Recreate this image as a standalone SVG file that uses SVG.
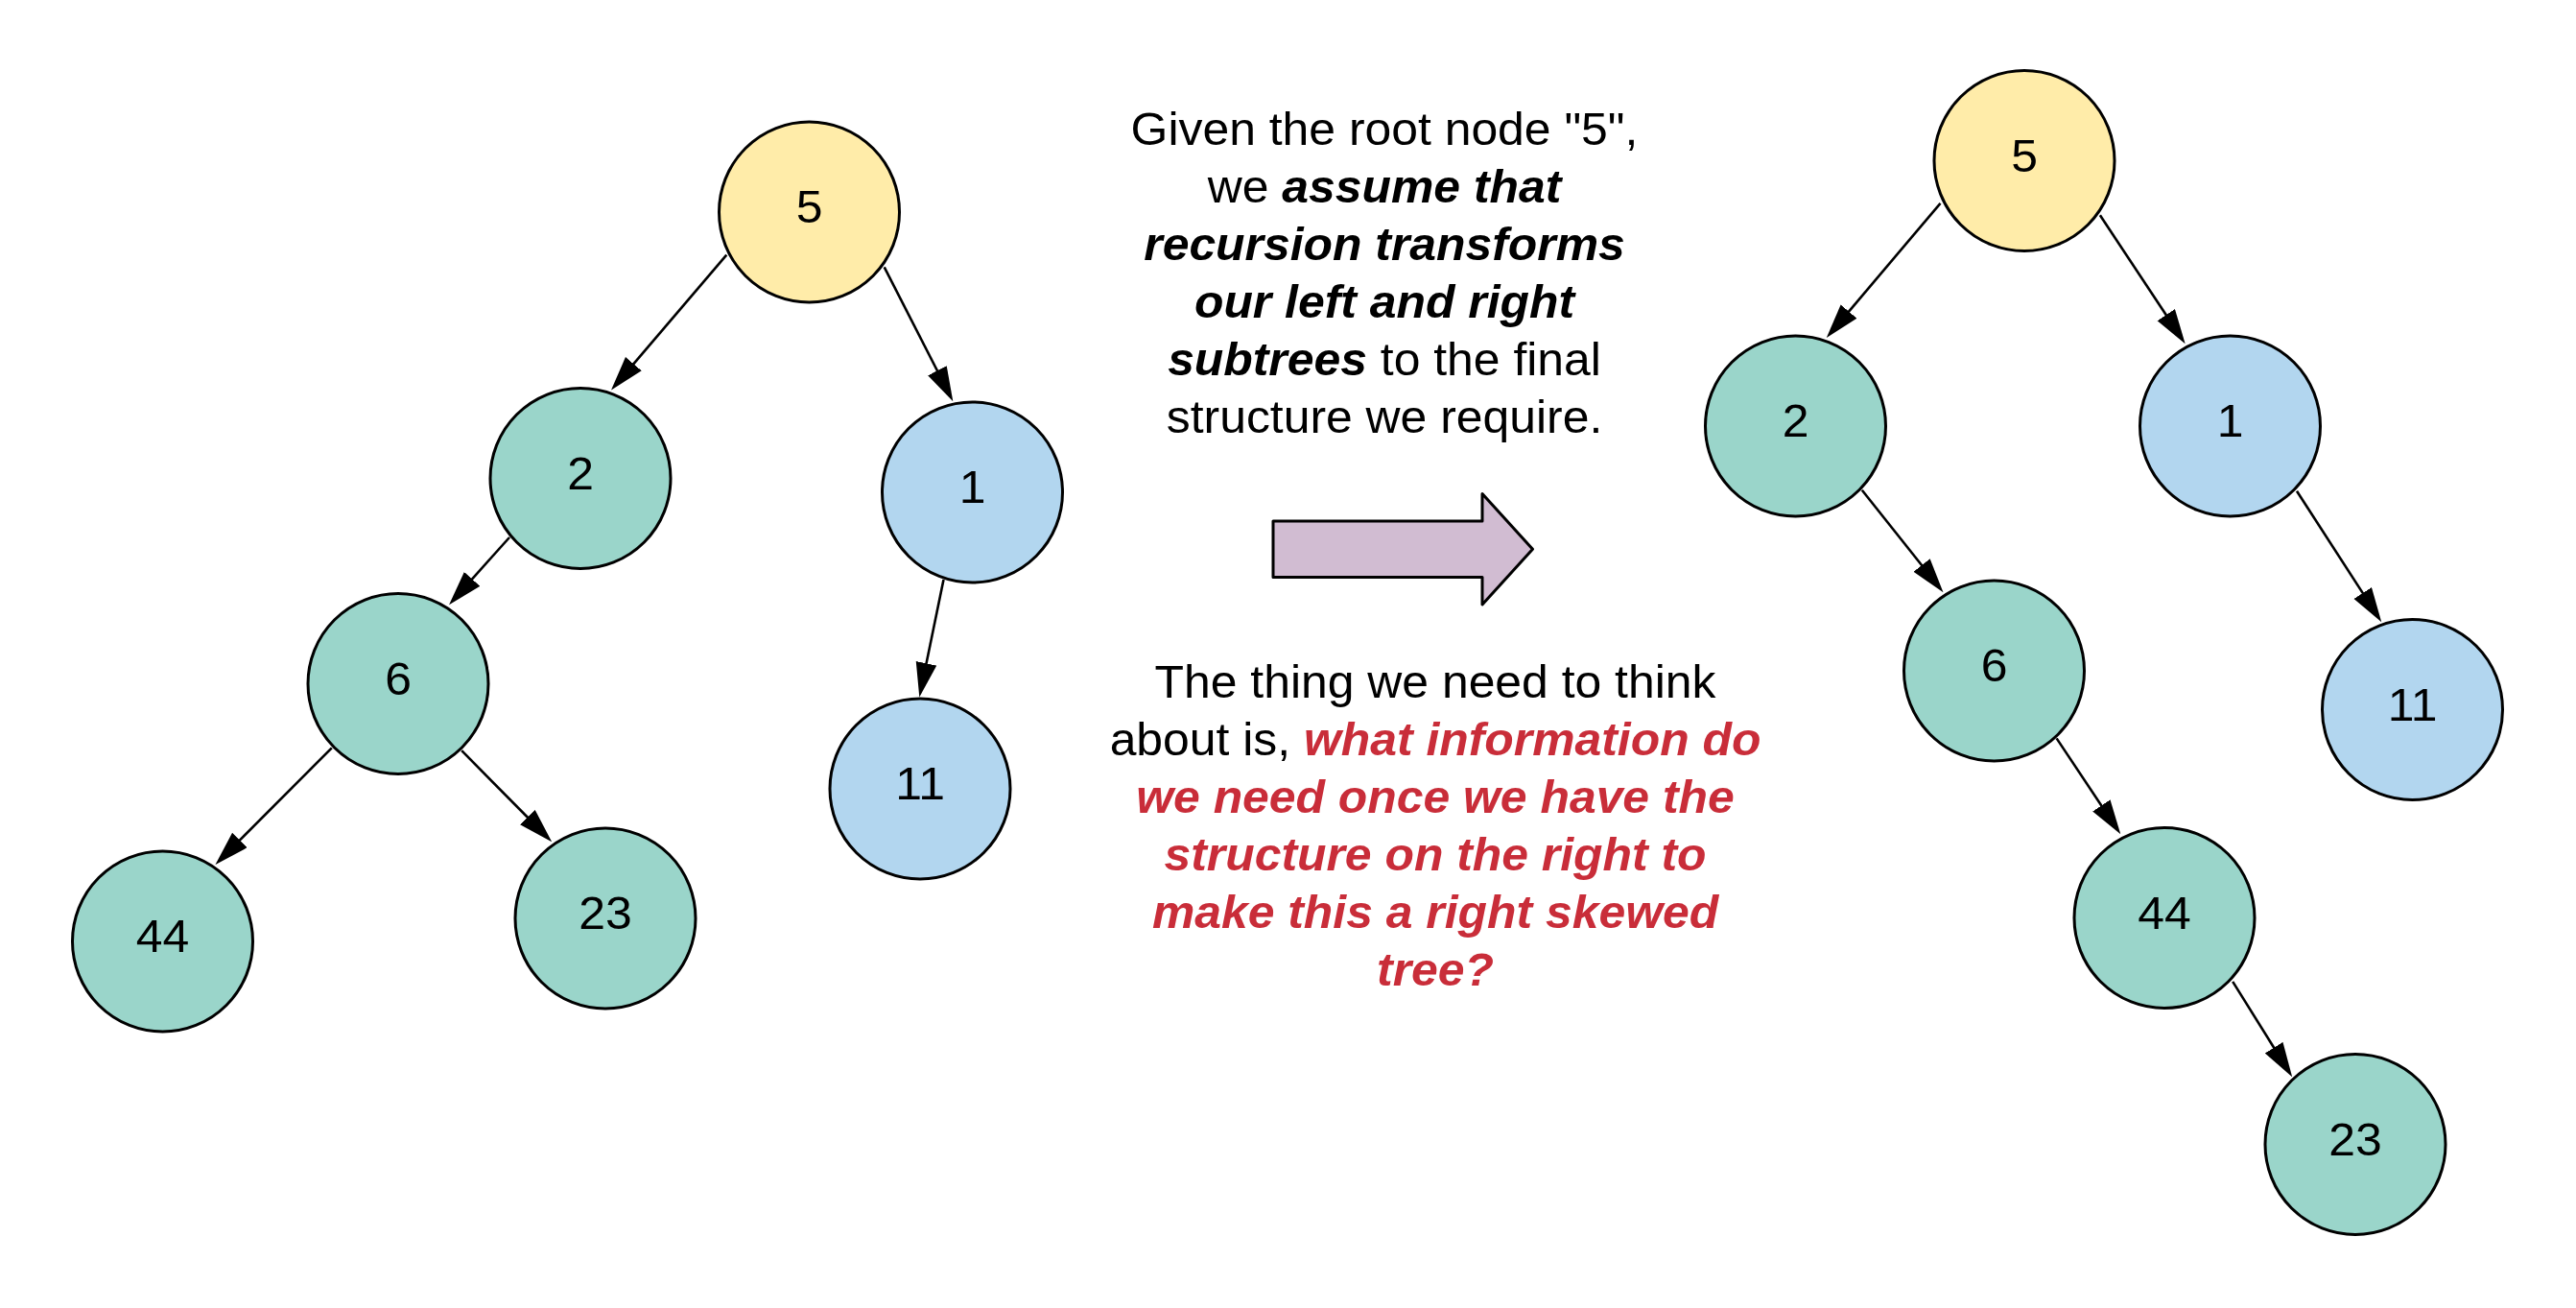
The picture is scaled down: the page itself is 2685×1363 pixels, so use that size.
<svg xmlns="http://www.w3.org/2000/svg" width="2685" height="1363" viewBox="0 0 2685 1363">
<style>
  .node circle { stroke: #000; stroke-width: 3; }
  .yellow { fill: #ffeca9; }
  .teal { fill: #9ad5ca; }
  .blue { fill: #b2d6ef; }
  .lbl { font-family: "Liberation Sans", Arial, sans-serif; font-size: 47.5px; fill: #000; text-anchor: middle; }
  .edge { stroke: #000; stroke-width: 2.6; fill: none; marker-end: url(#arrow); }
  .para { font-family: "Liberation Sans", Arial, sans-serif; font-size: 47.5px; fill: #000; text-anchor: middle; }
  .bi { font-weight: bold; font-style: italic; }
  .red { fill: #c92d39; }
</style>
<defs>
  <marker id="arrow" markerUnits="userSpaceOnUse" markerWidth="40" markerHeight="26" refX="16" refY="11" orient="auto">
    <path d="M0,0 L36,11 L0,22 z" fill="#000"/>
  </marker>
</defs>
<rect width="2685" height="1363" fill="#fff"/>

<g id="connectors">
  <line class="edge" x1="757.3" y1="265.7" x2="650.0" y2="391.4"/>
  <line class="edge" x1="921.7" y1="278.3" x2="984.2" y2="400.5"/>
  <line class="edge" x1="531" y1="560" x2="481.4" y2="615.3"/>
  <line class="edge" x1="983.5" y1="604" x2="962.3" y2="707.0"/>
  <line class="edge" x1="345.8" y1="779.4" x2="238.6" y2="886.8"/>
  <line class="edge" x1="481.2" y1="782.2" x2="561.1" y2="863.0"/>
  <line class="edge" x1="2022.5" y1="211.8" x2="1916.7" y2="336.8"/>
  <line class="edge" x1="2188.9" y1="224.3" x2="2266.6" y2="341.5"/>
  <line class="edge" x1="1940.8" y1="510.7" x2="2013.0" y2="601.5"/>
  <line class="edge" x1="2394" y1="511.8" x2="2471.4" y2="631.4"/>
  <line class="edge" x1="2143.6" y1="769.4" x2="2199.2" y2="852.7"/>
  <line class="edge" x1="2327.2" y1="1022.9" x2="2378.6" y2="1105.3"/>
</g>

<g id="L5" class="node"><circle class="yellow" cx="843.5" cy="221" r="94"/><text class="lbl" transform="translate(843.5,232) scale(1.05,1)">5</text></g>
<g id="L2" class="node"><circle class="teal" cx="605" cy="498.5" r="94"/><text class="lbl" transform="translate(605,509.5) scale(1.05,1)">2</text></g>
<g id="L1" class="node"><circle class="blue" cx="1013.5" cy="513" r="94"/><text class="lbl" transform="translate(1013.5,524) scale(1.05,1)">1</text></g>
<g id="L6" class="node"><circle class="teal" cx="415" cy="712.5" r="94"/><text class="lbl" transform="translate(415,723.5) scale(1.05,1)">6</text></g>
<g id="L11" class="node"><circle class="blue" cx="959" cy="822" r="94"/><text class="lbl" transform="translate(959,833) scale(1.05,1)">11</text></g>
<g id="L44" class="node"><circle class="teal" cx="169.5" cy="981" r="94"/><text class="lbl" transform="translate(169.5,992) scale(1.05,1)">44</text></g>
<g id="L23" class="node"><circle class="teal" cx="631" cy="957" r="94"/><text class="lbl" transform="translate(631,968) scale(1.05,1)">23</text></g>

<g id="R5" class="node"><circle class="yellow" cx="2110" cy="167.5" r="94"/><text class="lbl" transform="translate(2110,178.5) scale(1.05,1)">5</text></g>
<g id="R2" class="node"><circle class="teal" cx="1871.5" cy="444" r="94"/><text class="lbl" transform="translate(1871.5,455) scale(1.05,1)">2</text></g>
<g id="R1" class="node"><circle class="blue" cx="2324.5" cy="444" r="94"/><text class="lbl" transform="translate(2324.5,455) scale(1.05,1)">1</text></g>
<g id="R6" class="node"><circle class="teal" cx="2078.5" cy="699" r="94"/><text class="lbl" transform="translate(2078.5,710) scale(1.05,1)">6</text></g>
<g id="R11" class="node"><circle class="blue" cx="2514.5" cy="739.5" r="94"/><text class="lbl" transform="translate(2514.5,750.5) scale(1.05,1)">11</text></g>
<g id="R44" class="node"><circle class="teal" cx="2256" cy="956.5" r="94"/><text class="lbl" transform="translate(2256,967.5) scale(1.05,1)">44</text></g>
<g id="R23" class="node"><circle class="teal" cx="2455" cy="1192.5" r="94"/><text class="lbl" transform="translate(2455,1203.5) scale(1.05,1)">23</text></g>

<g id="bigArrow">
  <path d="M1327,543 L1545,543 L1545,514.5 L1597.5,572.3 L1545,630 L1545,601.5 L1327,601.5 Z" fill="#d1bcd2" stroke="#000" stroke-width="3" stroke-linejoin="round"/>
</g>

<g id="text1" transform="translate(1443,0) scale(1.05,1)">
  <text class="para" x="0" y="151.5">Given the root node "5",</text>
  <text class="para" x="0" y="211.5">we <tspan class="bi">assume that</tspan></text>
  <text class="para bi" x="0" y="271.5">recursion transforms</text>
  <text class="para bi" x="0" y="331.5">our left and right</text>
  <text class="para" x="0" y="391.5"><tspan class="bi">subtrees</tspan> to the final</text>
  <text class="para" x="0" y="451.5">structure we require.</text>
</g>

<g id="text2" transform="translate(1496,0) scale(1.05,1)">
  <text class="para" x="0" y="727">The thing we need to think</text>
  <text class="para" x="0" y="787">about is, <tspan class="bi red">what information do</tspan></text>
  <text class="para bi red" x="0" y="847">we need once we have the</text>
  <text class="para bi red" x="0" y="907">structure on the right to</text>
  <text class="para bi red" x="0" y="967">make this a right skewed</text>
  <text class="para bi red" x="0" y="1027">tree?</text>
</g>
</svg>
